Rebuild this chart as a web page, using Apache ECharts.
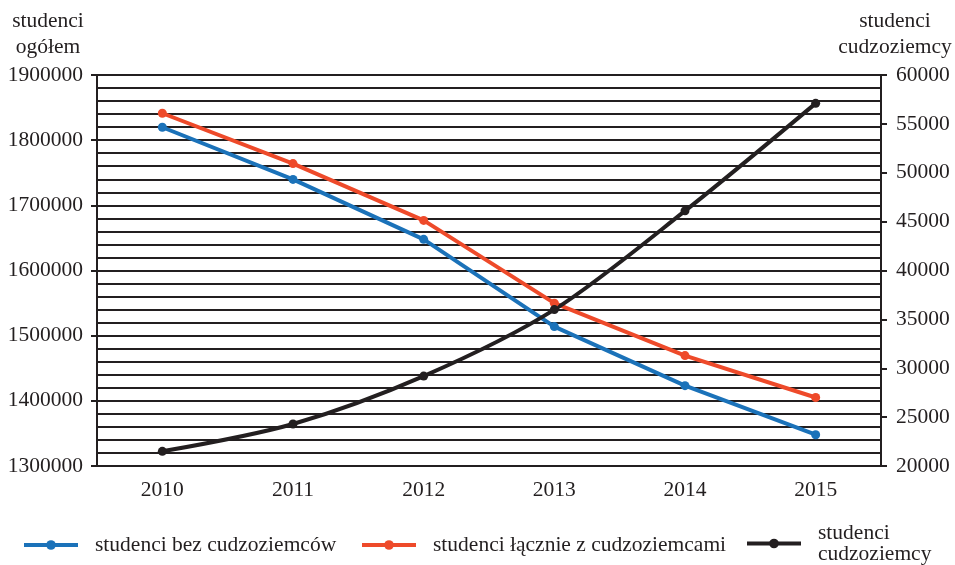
<!DOCTYPE html>
<html>
<head>
<meta charset="utf-8">
<script src="https://cdn.jsdelivr.net/npm/echarts@6/dist/echarts.min.js"></script>
<style>
  html, body { margin: 0; padding: 0; background: #fff; }
  #chart { width: 955px; height: 565px; }
</style>
</head>
<body>
<div id="chart"></div>
<script>
// Years on the horizontal axis
const years = ['2010', '2011', '2012', '2013', '2014', '2015'];

// Students excluding foreigners (left axis)
const withoutForeigners = [1819800, 1739800, 1647800, 1513900, 1423300, 1348000];
// All students including foreigners (left axis)
const totalStudents = [1841300, 1764100, 1676900, 1549900, 1469400, 1405100];
// Foreign students (right axis)
const foreignStudents = [21500, 24300, 29200, 36000, 46100, 57100];

const seriesNames = ['studenci bez cudzoziemców', 'studenci łącznie z cudzoziemcami', 'studenci cudzoziemcy'];

const INK = '#231f20';
const FONT = 'Liberation Serif';
const FS = 21.5;
const BLUE = '#1b72b9';
const RED = '#ee4a2a';

const chart = echarts.init(document.getElementById('chart'));

function legendAt(name, left, top) {
  return {
    data: [name],
    left: left,
    top: top,
    padding: 0,
    itemWidth: 54,
    itemHeight: 12,
    selectedMode: false,
    lineStyle: { width: 4 },
    textStyle: {
      fontFamily: FONT,
      fontSize: FS,
      color: INK,
      padding: [0, 0, 0, 12],
      lineHeight: 21
    },
    formatter: function (n) {
      return n === 'studenci cudzoziemcy' ? 'studenci\ncudzoziemcy' : n;
    }
  };
}

chart.setOption({
  animation: false,
  backgroundColor: '#fff',
  grid: { left: 97, right: 74, top: 75, bottom: 99 },
  legend: [
    legendAt(seriesNames[0], 22, 534),
    legendAt(seriesNames[1], 360, 534),
    legendAt(seriesNames[2], 745, 522)
  ],
  graphic: [
    {
      type: 'text', x: 48, y: 8,
      style: { text: 'studenci\nogółem', font: FS + 'px "Liberation Serif"', fill: INK, lineHeight: 26, align: 'center' }
    },
    {
      type: 'text', x: 895, y: 8,
      style: { text: 'studenci\ncudzoziemcy', font: FS + 'px "Liberation Serif"', fill: INK, lineHeight: 26, align: 'center' }
    }
  ],
  xAxis: {
    type: 'category',
    data: years,
    boundaryGap: true,
    axisLine: { lineStyle: { color: INK, width: 2 } },
    axisTick: { show: false },
    axisLabel: { fontFamily: FONT, fontSize: FS, color: INK, margin: 13 }
  },
  yAxis: [
    {
      type: 'value',
      min: 1300000,
      max: 1900000,
      interval: 100000,
      position: 'left',
      axisLine: { show: true, lineStyle: { color: INK, width: 2 } },
      axisTick: { show: true, length: 6, lineStyle: { color: INK, width: 2 } },
      axisLabel: { fontFamily: FONT, fontSize: FS, color: INK, margin: 14, formatter: v => String(v) },
      splitLine: { show: true, lineStyle: { color: INK, width: 2 } },
      minorTick: { show: false, splitNumber: 5 },
      minorSplitLine: { show: true, lineStyle: { color: INK, width: 2 } }
    },
    {
      type: 'value',
      min: 20000,
      max: 60000,
      interval: 5000,
      position: 'right',
      axisLine: { show: true, lineStyle: { color: INK, width: 2 } },
      axisTick: { show: true, length: 6, lineStyle: { color: INK, width: 2 } },
      axisLabel: { fontFamily: FONT, fontSize: FS, color: INK, margin: 15, formatter: v => String(v) },
      splitLine: { show: false }
    }
  ],
  series: [
    {
      name: seriesNames[0],
      type: 'line',
      yAxisIndex: 0,
      data: withoutForeigners,
      symbol: 'circle',
      symbolSize: 9,
      lineStyle: { color: BLUE, width: 4 },
      itemStyle: { color: BLUE }
    },
    {
      name: seriesNames[1],
      type: 'line',
      yAxisIndex: 0,
      data: totalStudents,
      symbol: 'circle',
      symbolSize: 9,
      lineStyle: { color: RED, width: 4 },
      itemStyle: { color: RED }
    },
    {
      name: seriesNames[2],
      type: 'line',
      yAxisIndex: 1,
      data: foreignStudents,
      smooth: 0.3,
      symbol: 'circle',
      symbolSize: 9,
      lineStyle: { color: INK, width: 4 },
      itemStyle: { color: INK }
    }
  ]
});
</script>
</body>
</html>
